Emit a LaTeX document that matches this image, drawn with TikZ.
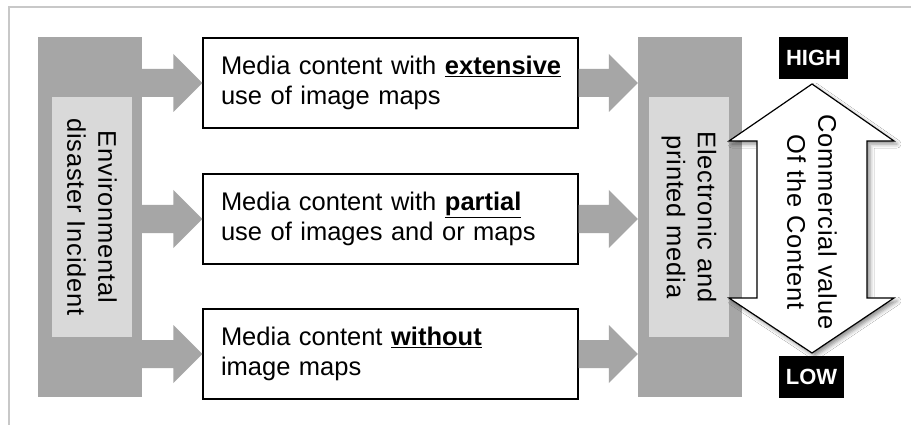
\documentclass[tikz,border=0pt]{standalone}
\usepackage{fontspec}
\setmainfont{Liberation Sans}
\usetikzlibrary{calc,shadows.blur}
\definecolor{bardark}{HTML}{A6A6A6}
\definecolor{barlight}{HTML}{D9D9D9}
\definecolor{framegray}{HTML}{C8C8C8}
\newcommand{\bigtext}{\fontsize{25.5}{30}\selectfont}
\newcommand{\rottext}{\fontsize{25.5}{31}\selectfont\addfontfeatures{LetterSpace=3}}
\newcommand{\blockarrow}[2]{%
  \fill[bardark] let \p1=(#1), \p2=(#2) in
    (\x1,\y1+14pt) -- (\x2-29pt,\y1+14pt) -- (\x2-29pt,\y1+29pt) -- (\x2,\y1)
    -- (\x2-29pt,\y1-29pt) -- (\x2-29pt,\y1-14pt) -- (\x1,\y1-14pt) -- cycle;}
\tikzset{
  darkbar/.style={fill=bardark, draw=none, minimum width=104pt, minimum height=360pt, inner sep=0pt},
  lightbar/.style={fill=barlight, draw=none, rotate=-90, minimum width=240pt, minimum height=80pt,
    inner sep=0pt, align=center, font=\rottext},
  contentbox/.style={draw=black, line width=1.3pt, fill=white, minimum width=375pt, minimum height=90pt,
    text width=339pt, inner xsep=18pt, inner ysep=0pt, align=left, font=\bigtext},
  tag/.style={fill=black, text=white, font=\bfseries\fontsize{22}{25}\selectfont, inner sep=0pt,
    minimum height=42pt},
  vlabel/.style={rotate=-90, align=center, font=\rottext, inner sep=0pt},
  valuearrow/.style={draw=black, line width=1.2pt, fill=white,
    blur shadow={shadow xshift=3pt, shadow yshift=-3pt, shadow blur radius=4pt, shadow opacity=45}}
}
\begin{document}
\begin{tikzpicture}[x=1pt,y=-1pt]
\useasboundingbox (0,0) rectangle (911,425);
\fill[white] (0,0) rectangle (911,425);
\draw[framegray, line width=1.5pt] (9,425) -- (9,7) -- (911,7);

% left and right bars
\node[darkbar] (envbar) at (90,217) {};
\node[lightbar] (envtext) at (92,217) {Environmental\\disaster Incident};
\node[darkbar] (mediabar) at (690,217) {};
\node[lightbar] (mediatext) at (689,217) {Electronic and\\printed media};

% content boxes
\node[contentbox] (box1) at (390.5,83) {\mbox{Media content with \underline{\textbf{extensive}}}\\use of image maps};
\node[contentbox] (box2) at (390.5,219) {\mbox{Media content with \underline{\textbf{partial}}}\\use of images and or maps};
\node[contentbox] (box3) at (390.5,354) {\mbox{Media content \underline{\textbf{without}}}\\image maps};

% block arrows
\blockarrow{envbar.east |- box1.west}{box1.west}
\blockarrow{envbar.east |- box2.west}{box2.west}
\blockarrow{envbar.east |- box3.west}{box3.west}
\blockarrow{box1.east}{mediabar.west |- box1.east}
\blockarrow{box2.east}{mediabar.west |- box2.east}
\blockarrow{box3.east}{mediabar.west |- box3.east}

% double arrow of commercial value
\path[valuearrow] (812,84) -- (894,141) -- (867,141) -- (867,298) -- (894,298) -- (812,353)
  -- (729,298) -- (757,298) -- (757,141) -- (729,141) -- cycle;
\node[vlabel] (cvtext) at (812,222) {Commercial value\\Of the Content};

\node[tag, minimum width=69pt] (high) at (813.5,58) {HIGH};
\node[tag, minimum width=65pt] (low) at (811.5,377) {LOW};
\end{tikzpicture}
\end{document}
